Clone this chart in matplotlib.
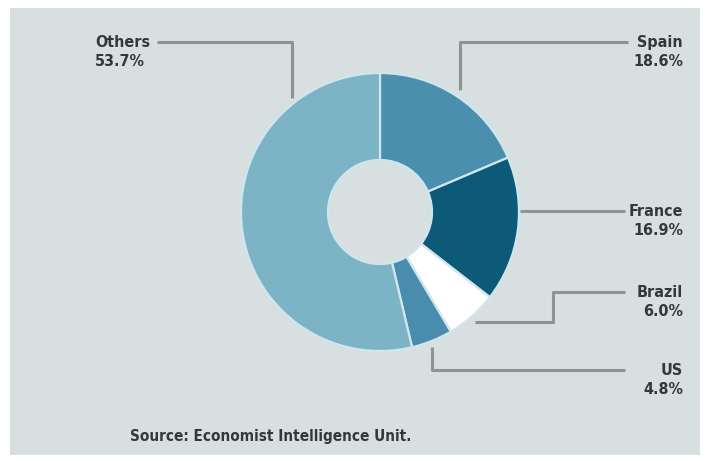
import matplotlib
matplotlib.use("Agg")
import matplotlib.pyplot as plt
from matplotlib.patches import Rectangle

# data
countries = ["Spain", "France", "Brazil", "US", "Others"]
shares = [18.6, 16.9, 6.0, 4.8, 53.7]
colours = ["#4b8fae", "#0d5a78", "#ffffff", "#4a8cae", "#7db4c5"]
source = "Source: Economist Intelligence Unit."

W, H = 707, 461
fig = plt.figure(figsize=(W / 100, H / 100), dpi=100)
fig.patch.set_facecolor("white")
ax = fig.add_axes([0, 0, 1, 1])

def py(y):
    # pixel row from the top -> data y
    return H - y

ax.add_patch(Rectangle((10, py(455)), 690, 447, facecolor="#d8dfe0",
                       edgecolor="none", zorder=0))

cx, cy, R = 380, py(212), 139
ax.pie(shares, colors=colours, startangle=90, counterclock=False,
       center=(cx, cy), radius=R, frame=True,
       wedgeprops=dict(width=R - 52, edgecolor="#cfe6ee", linewidth=1.6))
ax.set_xlim(0, W)
ax.set_ylim(0, H)
ax.set_aspect("equal")
ax.axis("off")

line_kw = dict(color="#8c9596", lw=2.2, solid_capstyle="butt", zorder=1)
leaders = {
    "Others": [(157, 42), (292, 42), (292, 98)],
    "Spain": [(628, 42), (460, 42), (460, 90)],
    "France": [(625, 211), (520, 211)],
    "Brazil": [(625, 292), (553, 292), (553, 322), (475, 322)],
    "US": [(625, 370), (432, 370), (432, 347)],
}
for pts in leaders.values():
    ax.plot([p[0] for p in pts], [py(p[1]) for p in pts], **line_kw)

font = dict(fontfamily="DejaVu Sans", fontstretch="condensed",
            fontweight="bold", color="#33393a")
label_pos = {
    "Others": (95, 52, "left"),
    "Spain": (683, 52, "right"),
    "France": (683, 221, "right"),
    "Brazil": (683, 302, "right"),
    "US": (683, 380, "right"),
}
for name, share in zip(countries, shares):
    x, y, ha = label_pos[name]
    ax.text(x, py(y), f"{name}\n{share:.1f}%", ha=ha, va="center",
            fontsize=11.5, linespacing=1.3, **font)

ax.text(130, py(436), source, ha="left", va="center", fontsize=11, **font)

fig.savefig("out.png", dpi=100, facecolor=fig.get_facecolor())
